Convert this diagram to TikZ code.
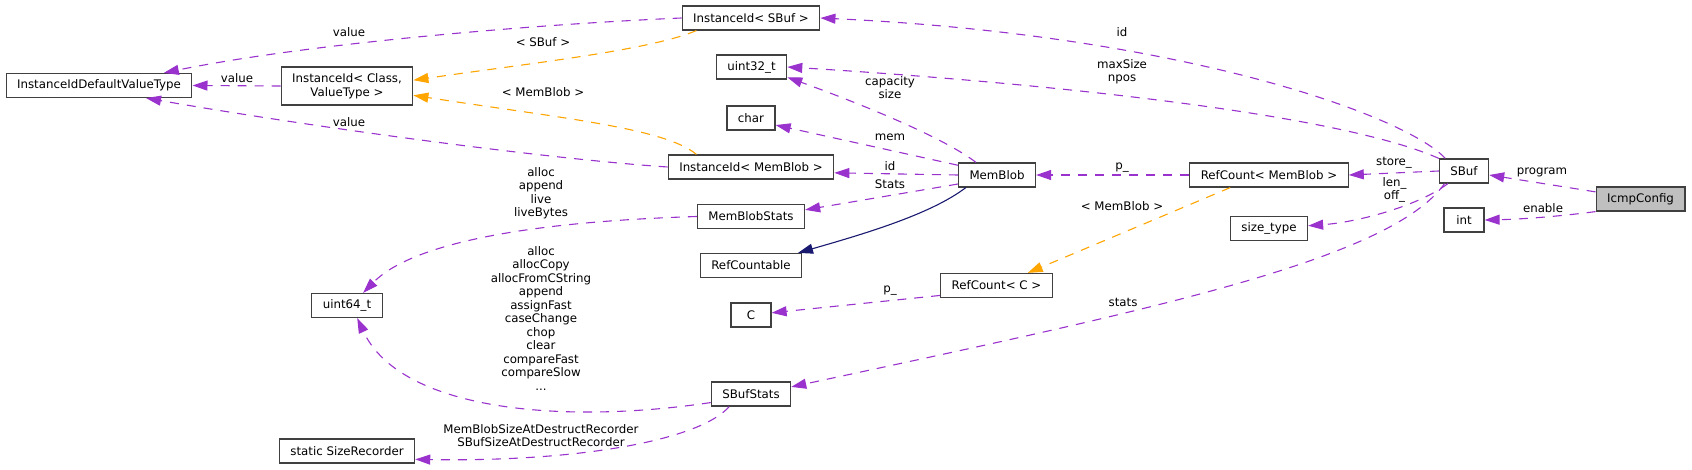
\documentclass[tikz,border=0pt]{standalone}
\usepackage{fontspec}
\setmainfont{DejaVu Sans}
\usetikzlibrary{arrows.meta}

\definecolor{usecol}{HTML}{9A32CD}
\definecolor{tplcol}{HTML}{FFA500}
\definecolor{inhcol}{HTML}{191970}
\definecolor{boxline}{HTML}{404040}
\definecolor{rootfill}{HTML}{BFBFBF}

\begin{document}
\begin{tikzpicture}[x=1pt, y=-1pt,
        font=\fontsize{11.8}{13.5}\selectfont,
        classbox/.style={draw=boxline, line width=1.2pt, fill=white, align=center,
            minimum height=24pt, minimum width=40pt, inner xsep=11pt, inner ysep=2pt},
        member/.style={usecol, line width=1.1pt, dash pattern=on 9pt off 8pt,
            -{Triangle[length=15pt,width=10pt]}},
        tmpl/.style={member, tplcol},
        inherit/.style={inhcol, line width=1.1pt, -{Triangle[length=15pt,width=10pt]}},
        lbl/.style={inner sep=0pt, align=center}]
    \useasboundingbox (0,0) rectangle (1692,470);

    % Classes
    \node[classbox] (idDefault) at (99,85.5) {InstanceIdDefaultValueType};
    \node[classbox, minimum height=38pt] (idTpl) at (347,86) {InstanceId< Class,\\ValueType >};
    \node[classbox] (u64) at (347,305.5) {uint64\_t};
    \node[classbox] (sizeRec) at (347,451) {static SizeRecorder};
    \node[classbox] (idSBuf) at (751,18) {InstanceId< SBuf >};
    \node[classbox] (u32) at (751.5,67) {uint32\_t};
    \node[classbox] (chr) at (751,118) {char};
    \node[classbox] (idMemBlob) at (751,167) {InstanceId< MemBlob >};
    \node[classbox] (memBlobStats) at (751,216.5) {MemBlobStats};
    \node[classbox] (refCountable) at (751,265.5) {RefCountable};
    \node[classbox] (cNode) at (751,315) {C};
    \node[classbox] (sBufStats) at (751,394) {SBufStats};
    \node[classbox] (memBlob) at (997,175) {MemBlob};
    \node[classbox] (refCountC) at (996.5,285.5) {RefCount< C >};
    \node[classbox] (refCountMB) at (1269,175) {RefCount< MemBlob >};
    \node[classbox] (sizeType) at (1269,228.5) {size\_type};
    \node[classbox] (sBuf) at (1464,171) {SBuf};
    \node[classbox] (intT) at (1464,220) {int};
    \node[classbox, fill=rootfill] (icmpConfig) at (1640.5,199) {IcmpConfig};

    % Usage and template relations
    \draw[member] (idSBuf.west) .. controls (520,25) and (300,45) .. (idDefault.11);
    \draw[member] (idTpl.west) -- (idDefault.east);
    \draw[member] (idMemBlob.west) .. controls (560,160) and (330,130) .. (idDefault.-15);
    \draw[tmpl] (idSBuf.193) .. controls (650,50) and (540,62) .. (idTpl.5);
    \draw[tmpl] (idMemBlob.167) .. controls (665,128) and (560,118) .. (idTpl.-8);
    \draw[member] (memBlobStats.west) .. controls (520,222) and (410,245) .. (u64.38);
    \draw[member] (sBufStats.192) .. controls (560,425) and (400,410) .. (u64.-51);
    \draw[member] (sBufStats.210) .. controls (700,440) and (580,462) .. (sizeRec.-7);
    \draw[member] (sBuf.146) .. controls (1405,115) and (1180,35) .. (idSBuf.east);
    \draw[member] (sBuf.north west) .. controls (1330,110) and (1000,80) .. (u32.east);
    \draw[member] (memBlob.149) .. controls (940,135) and (850,100) .. (u32.-16);
    \draw[member] (memBlob.166) -- (chr.-16);
    \draw[member] (memBlob.west) -- (idMemBlob.-4);
    \draw[member] (memBlob.193) -- (memBlobStats.7);
    \draw[inherit] (memBlob.202) .. controls (930,215) and (860,235) .. (refCountable.15);
    \draw[member] (refCountMB.west) -- (memBlob.east);
    \draw[tmpl] (refCountMB.198) -- (refCountC.22);
    \draw[member] (refCountC.190) -- (cNode.6);
    \draw[member] (sBuf.west) -- (refCountMB.east);
    \draw[member] (sBuf.218) .. controls (1420,205) and (1360,222) .. (sizeType.4);
    \draw[member] (sBuf.213) .. controls (1390,260) and (1150,310) .. (sBufStats.10);
    \draw[member] (icmpConfig.171) -- (sBuf.-9);
    \draw[member] (icmpConfig.south west) .. controls (1570,215) and (1530,219) .. (intT.east);

    % Edge labels
    \node[lbl] (lValueA) at (349,32) {value};
    \node[lbl] (lValueB) at (237,78) {value};
    \node[lbl] (lValueC) at (349,122) {value};
    \node[lbl] (lTplSBuf) at (543,42) {< SBuf >};
    \node[lbl] (lTplMemBlob) at (543,92) {< MemBlob >};
    \node[lbl] (lMemStats) at (541,193) {alloc\\append\\live\\liveBytes};
    \node[lbl] (lSBufStats) at (541,318.5) {alloc\\allocCopy\\allocFromCString\\append\\assignFast\\caseChange\\chop\\clear\\compareFast\\compareSlow\\...};
    \node[lbl] (lRecorder) at (541,435.5) {MemBlobSizeAtDestructRecorder\\SBufSizeAtDestructRecorder};
    \node[lbl] (lCapacity) at (890,87.5) {capacity\\size};
    \node[lbl] (lMem) at (890,137) {mem};
    \node[lbl] (lIdMem) at (890,166) {id};
    \node[lbl] (lStats) at (890,184) {Stats};
    \node[lbl] (lPtrC) at (890,291) {p\_};
    \node[lbl] (lIdSBuf) at (1122,32) {id};
    \node[lbl] (lMaxSize) at (1122,71.5) {maxSize\\npos};
    \node[lbl] (lPtrMem) at (1122,168) {p\_};
    \node[lbl] (lTplRef) at (1122,206) {< MemBlob >};
    \node[lbl] (lStatsB) at (1123,302) {stats};
    \node[lbl] (lStore) at (1394,163) {store\_};
    \node[lbl] (lLen) at (1394.5,190) {len\_\\off\_};
    \node[lbl] (lProgram) at (1542,172) {program};
    \node[lbl] (lEnable) at (1543,208) {enable};
\end{tikzpicture}
\end{document}
